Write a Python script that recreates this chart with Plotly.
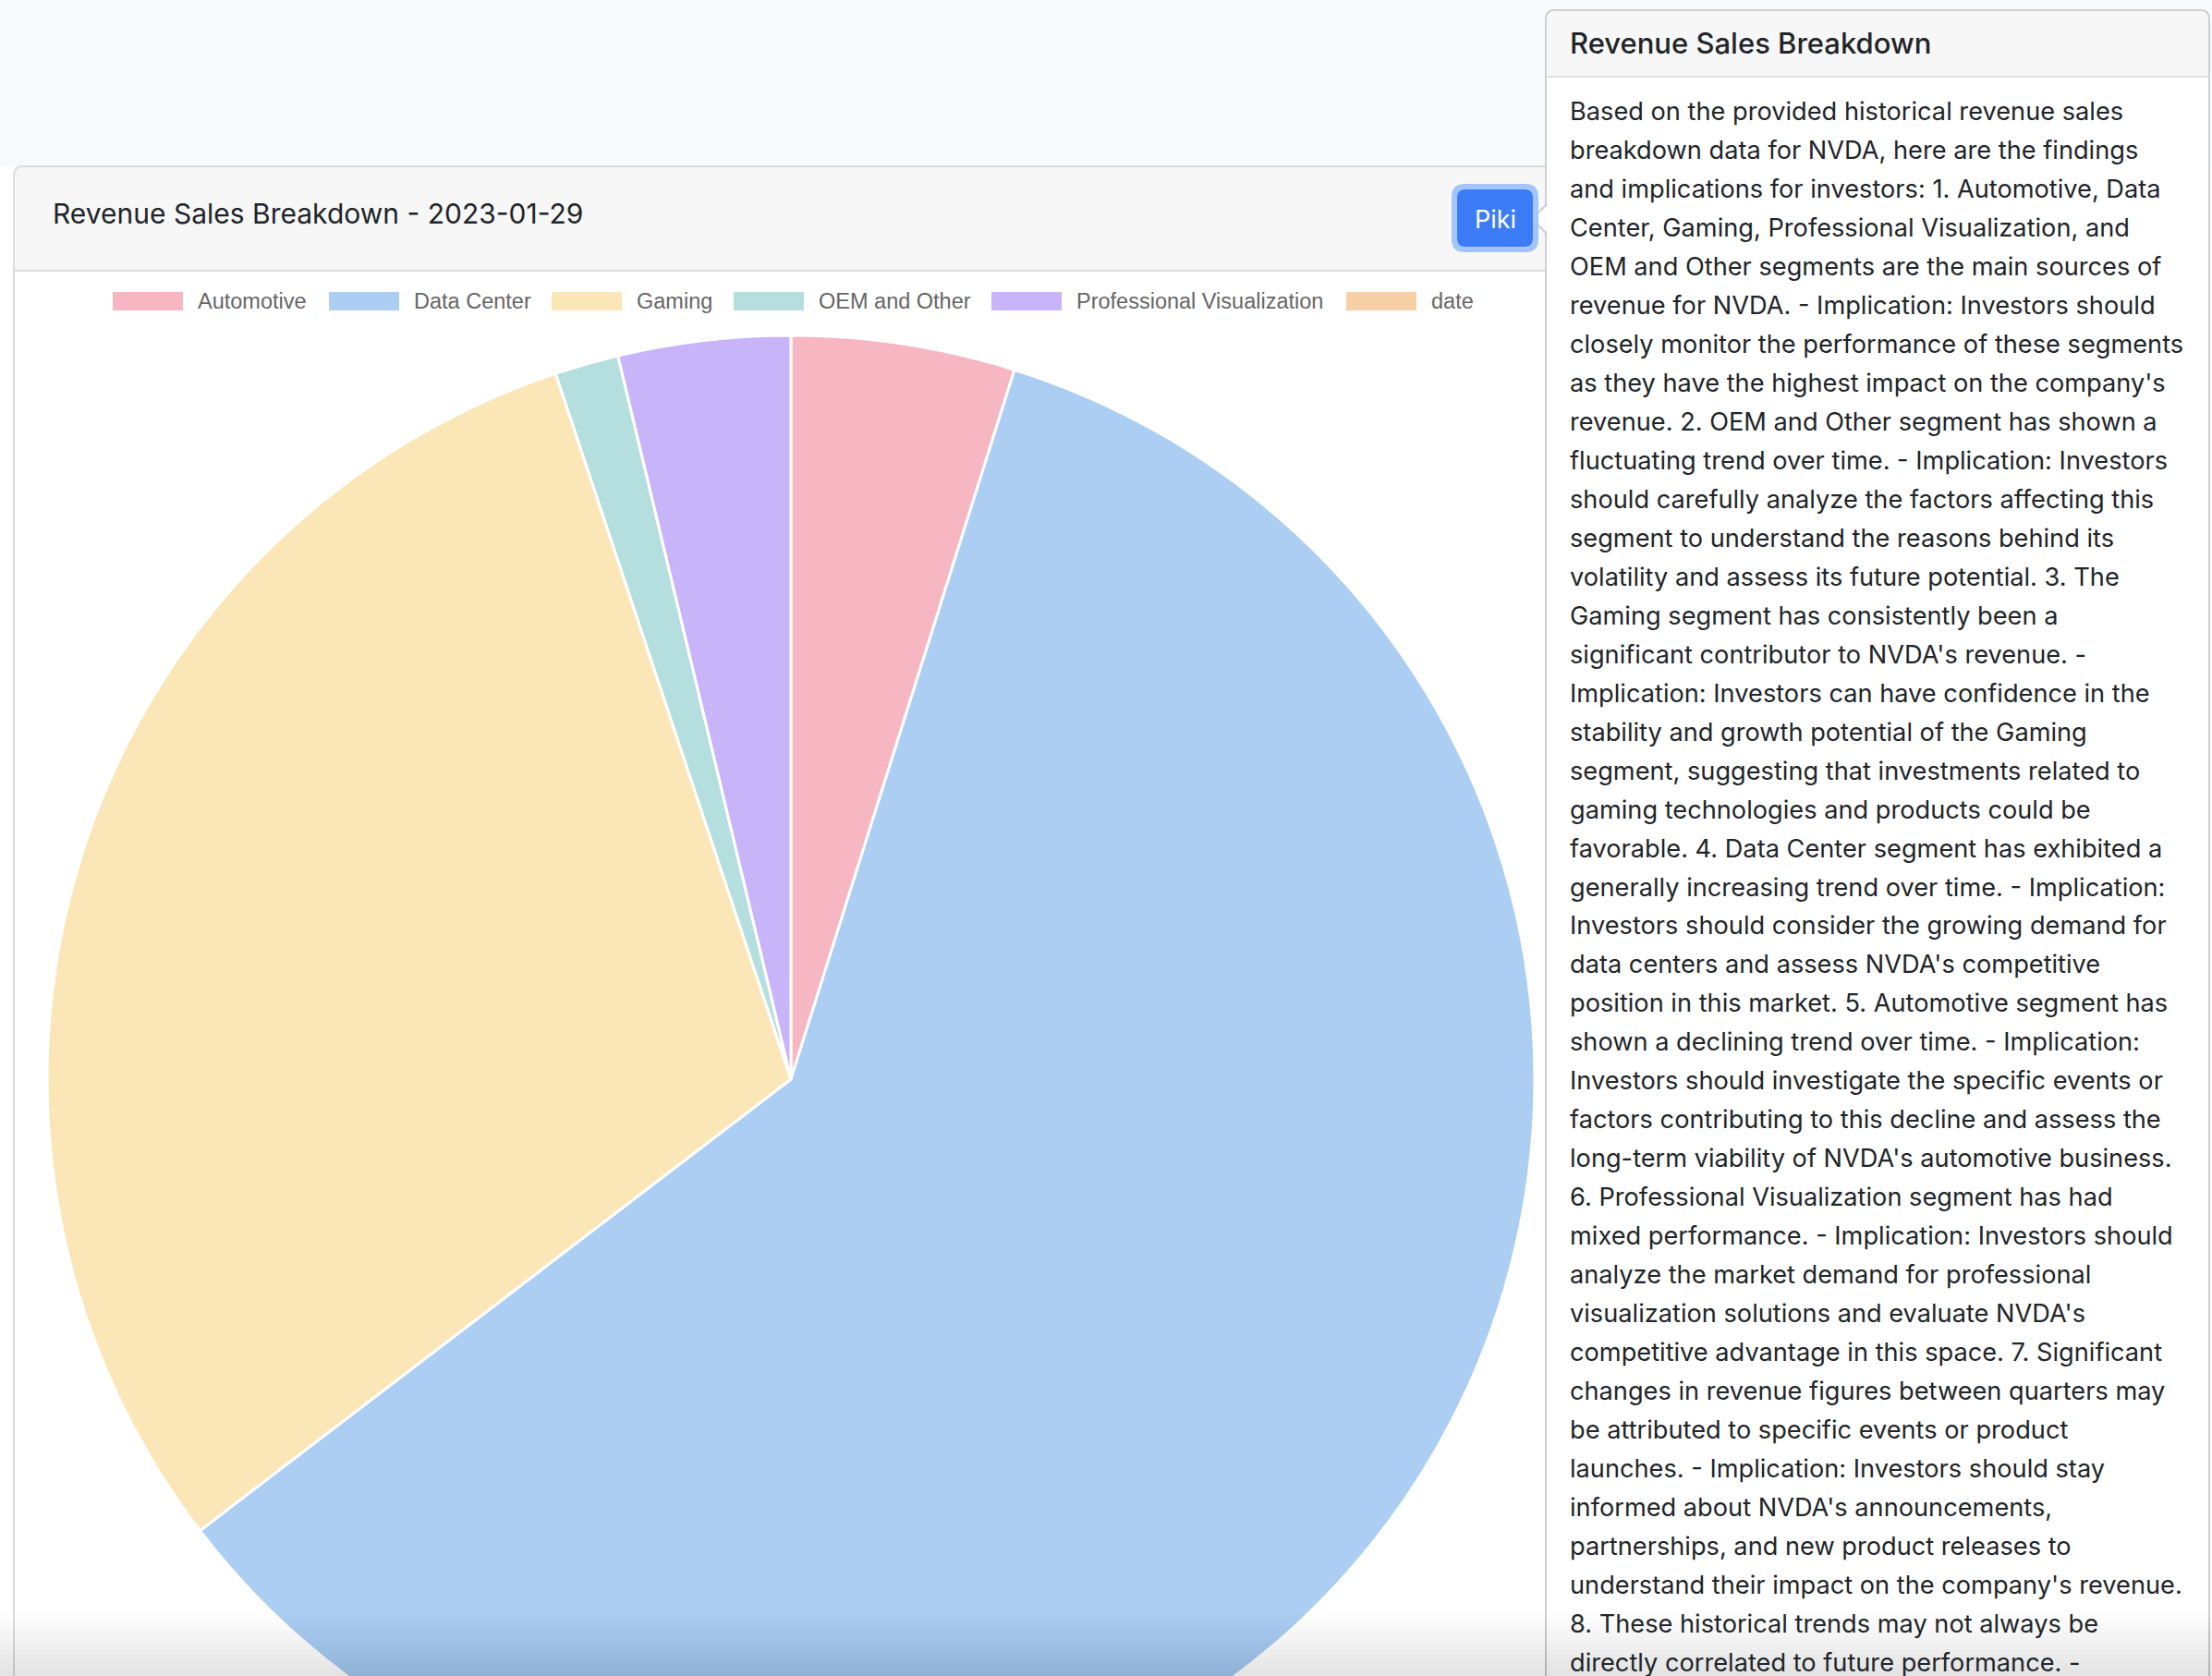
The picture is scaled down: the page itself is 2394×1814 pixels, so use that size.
import plotly.graph_objects as go

# ---------------- data ----------------
categories = ["Automotive", "Data Center", "Gaming", "OEM and Other", "Professional Visualization"]
revenue = [294, 3616, 1831, 84, 226]          # USD millions, quarter ended 2023-01-29
legend_labels = categories + ["date"]
slice_colors = ["#F6B7C3", "#ABCEF2", "#FBE6B8", "#B5DFDE", "#C8B4F9", "#F7D0A7"]

chart_title = "Revenue Sales Breakdown - 2023-01-29"
panel_title = "Revenue Sales Breakdown"
button_label = "Piki"
panel_lines = [
    "Based on the provided historical revenue sales",
    "breakdown data for NVDA, here are the findings",
    "and implications for investors: 1. Automotive, Data",
    "Center, Gaming, Professional Visualization, and",
    "OEM and Other segments are the main sources of",
    "revenue for NVDA. - Implication: Investors should",
    "closely monitor the performance of these segments",
    "as they have the highest impact on the company's",
    "revenue. 2. OEM and Other segment has shown a",
    "fluctuating trend over time. - Implication: Investors",
    "should carefully analyze the factors affecting this",
    "segment to understand the reasons behind its",
    "volatility and assess its future potential. 3. The",
    "Gaming segment has consistently been a",
    "significant contributor to NVDA's revenue. -",
    "Implication: Investors can have confidence in the",
    "stability and growth potential of the Gaming",
    "segment, suggesting that investments related to",
    "gaming technologies and products could be",
    "favorable. 4. Data Center segment has exhibited a",
    "generally increasing trend over time. - Implication:",
    "Investors should consider the growing demand for",
    "data centers and assess NVDA's competitive",
    "position in this market. 5. Automotive segment has",
    "shown a declining trend over time. - Implication:",
    "Investors should investigate the specific events or",
    "factors contributing to this decline and assess the",
    "long-term viability of NVDA's automotive business.",
    "6. Professional Visualization segment has had",
    "mixed performance. - Implication: Investors should",
    "analyze the market demand for professional",
    "visualization solutions and evaluate NVDA's",
    "competitive advantage in this space. 7. Significant",
    "changes in revenue figures between quarters may",
    "be attributed to specific events or product",
    "launches. - Implication: Investors should stay",
    "informed about NVDA's announcements,",
    "partnerships, and new product releases to",
    "understand their impact on the company's revenue.",
    "8. These historical trends may not always be",
    "directly correlated to future performance. -",
]

# ---------------- layout helpers (pixels -> paper) ----------------
W, H = 2394, 1990


def X(p):
    return p / W


def Y(p):
    return 1 - p / H


def path(points, close=True):
    s = ""
    for i, item in enumerate(points):
        if item[0] == "Q":
            _, cx, cy, x, y = item
            s += f" Q {X(cx)},{Y(cy)} {X(x)},{Y(y)}"
        else:
            x, y = item
            s += (" M " if i == 0 else " L ") + f"{X(x)},{Y(y)}"
    return s + (" Z" if close else "")


def rrect(x0, y0, x1, y1, r):
    return path([(x0 + r, y0), (x1 - r, y0), ("Q", x1, y0, x1, y0 + r), (x1, y1 - r),
                 ("Q", x1, y1, x1 - r, y1), (x0 + r, y1), ("Q", x0, y1, x0, y1 - r),
                 (x0, y0 + r), ("Q", x0, y0, x0 + r, y0)])


SANS = "Inter, 'Noto Sans', sans-serif"
CHART_FONT = "'Liberation Sans', Arial, sans-serif"
TEXT = "#212529"
BORDER = "#DCDCDC"

shapes = []
annotations = []

# page background strip
shapes.append(dict(type="rect", xref="paper", yref="paper", x0=0, x1=1, y0=Y(180), y1=1,
                   fillcolor="#F8F9FA", line_width=0, layer="below"))
# left card header
shapes.append(dict(type="path", xref="paper", yref="paper", layer="below",
                   path=path([(15, 293), (15, 190), ("Q", 15, 180, 25, 180), (1673, 180), (1673, 293)]),
                   fillcolor="#F7F7F7", line_width=0))
shapes.append(dict(type="path", xref="paper", yref="paper", layer="below",
                   path=path([(15, H), (15, 190), ("Q", 15, 180, 25, 180), (1673, 180)], close=False),
                   fillcolor="rgba(0,0,0,0)", line=dict(color=BORDER, width=2)))
shapes.append(dict(type="line", xref="paper", yref="paper", layer="below",
                   x0=X(15), x1=X(1673), y0=Y(293), y1=Y(293), line=dict(color=BORDER, width=2)))

# right panel
shapes.append(dict(type="path", xref="paper", yref="paper", layer="above",
                   path=path([(1673, H), (1673, 21), ("Q", 1673, 11, 1683, 11), (2381, 11),
                              ("Q", 2391, 11, 2391, 21), (2391, H)]),
                   fillcolor="white", line=dict(color="#CFCFCF", width=2)))
shapes.append(dict(type="path", xref="paper", yref="paper", layer="above",
                   path=path([(1674, 83), (1674, 21), ("Q", 1674, 12, 1684, 12), (2380, 12),
                              ("Q", 2390, 12, 2390, 21), (2390, 83)]),
                   fillcolor="#F7F7F7", line_width=0))
shapes.append(dict(type="line", xref="paper", yref="paper", layer="above",
                   x0=X(1674), x1=X(2390), y0=Y(83), y1=Y(83), line=dict(color="#E2E2E2", width=2)))
# popover arrow
shapes.append(dict(type="path", xref="paper", yref="paper", layer="above",
                   path=path([(1676, 221), (1658, 237), (1676, 253)]),
                   fillcolor="white", line_width=0))
shapes.append(dict(type="path", xref="paper", yref="paper", layer="above",
                   path=path([(1674, 221), (1658, 237), (1674, 253)], close=False),
                   fillcolor="rgba(0,0,0,0)", line=dict(color="#CFCFCF", width=2)))

# Piki button
shapes.append(dict(type="path", xref="paper", yref="paper", layer="above",
                   path=rrect(1571, 199, 1665, 273, 14), fillcolor="#A5C5FA", line_width=0))
shapes.append(dict(type="path", xref="paper", yref="paper", layer="above",
                   path=rrect(1577, 205, 1659, 267, 9), fillcolor="#3B7CF6", line_width=0))
annotations.append(dict(text=button_label, xref="paper", yref="paper", x=X(1618), y=Y(237),
                        xanchor="center", yanchor="middle", showarrow=False,
                        font=dict(family=SANS, size=27, color="white")))

# titles
annotations.append(dict(text=chart_title, xref="paper", yref="paper", x=X(55), y=Y(231),
                        xanchor="left", yanchor="middle", showarrow=False,
                        font=dict(family=SANS, size=30, color=TEXT)))
annotations.append(dict(text=panel_title, xref="paper", yref="paper", x=X(1697), y=Y(47),
                        xanchor="left", yanchor="middle", showarrow=False,
                        font=dict(family=SANS, size=31, color=TEXT, weight=500)))

# panel body
for k, line in enumerate(panel_lines):
    annotations.append(dict(text=line, xref="paper", yref="paper", x=X(1697), y=Y(121 + k * 41.95),
                            xanchor="left", yanchor="middle", showarrow=False,
                            font=dict(family=SANS, size=27.2, color=TEXT)))

# custom Chart.js style legend
legend_box_x = [122, 356, 597, 794, 1073, 1457]
for lbl, col, bx in zip(legend_labels, slice_colors, legend_box_x):
    shapes.append(dict(type="rect", xref="paper", yref="paper", layer="above",
                       x0=X(bx), x1=X(bx + 76), y0=Y(336), y1=Y(316),
                       fillcolor=col, line_width=0))
    annotations.append(dict(text=lbl, xref="paper", yref="paper", x=X(bx + 90), y=Y(326),
                            xanchor="left", yanchor="middle", showarrow=False,
                            font=dict(family=CHART_FONT, size=23.5, color="#666666")))

# bottom fade of the screenshot
for i in range(14):
    shapes.append(dict(type="rect", xref="paper", yref="paper", layer="above",
                       x0=0, x1=1, y0=0, y1=Y(1746 + i * 5),
                       fillcolor="rgba(0,0,0,0.0085)", line_width=0))

fig = go.Figure()
fig.add_trace(go.Pie(
    labels=categories,
    values=revenue,
    marker=dict(colors=slice_colors[:len(categories)], line=dict(color="white", width=3)),
    sort=False,
    direction="clockwise",
    rotation=0,
    textinfo="none",
    hoverinfo="label+value+percent",
    showlegend=False,
    domain=dict(x=[X(51), X(1661)], y=[Y(1973), Y(363)]),
))

fig.update_layout(
    width=W, height=H,
    margin=dict(l=0, r=0, t=0, b=0),
    paper_bgcolor="white",
    plot_bgcolor="white",
    showlegend=False,
    shapes=shapes,
    annotations=annotations,
)

fig.write_html(
    "out.html",
    config={"displayModeBar": False},
    post_script="document.body.style.margin='0px';document.body.style.overflow='hidden';",
)
